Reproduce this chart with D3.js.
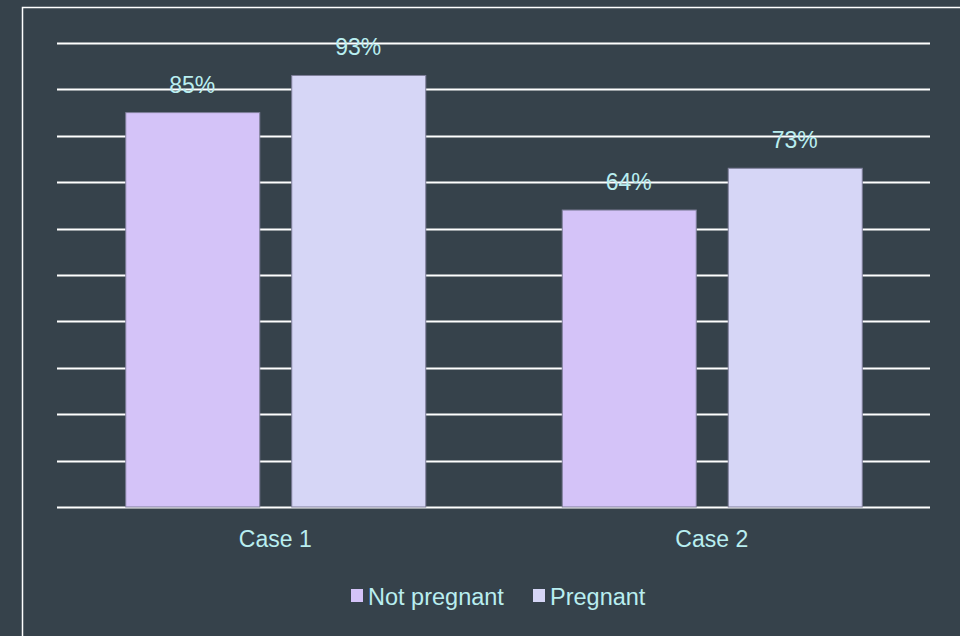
<!DOCTYPE html>
<html>
<head>
<meta charset="utf-8">
<script src="https://cdn.jsdelivr.net/npm/d3@7"></script>
<style>
  html, body { margin: 0; padding: 0; background: #36424b; }
  svg { display: block; }
  text { font-family: "Liberation Sans", Arial, sans-serif; fill: #b9eef0; }
</style>
</head>
<body>
<svg id="chart" width="960" height="636"></svg>
<script>
// Survey outcome by case, split by pregnancy status
const categories = ["Case 1", "Case 2"];
const seriesNames = ["Not pregnant", "Pregnant"];
const notPregnant = [85, 64];
const pregnant = [93, 73];
const yTicks = [0, 10, 20, 30, 40, 50, 60, 70, 80, 90, 100];

const seriesColors = ["#d4c3f8", "#d6d6f6"];
const seriesValues = [notPregnant, pregnant];

const W = 960, H = 636;
const margin = { left: 57, right: 30, top: 43, bottom: 129 };
const svg = d3.select("#chart");

svg.append("rect").attr("width", W).attr("height", H).attr("fill", "#36424b");

// outer frame (runs off the right and bottom edges)
svg.append("rect")
  .attr("x", 22.5).attr("y", 7.5)
  .attr("width", 960).attr("height", 660)
  .attr("fill", "none").attr("stroke", "#ffffff").attr("stroke-width", 1.5);

const x0 = d3.scaleBand().domain(categories)
  .range([margin.left, W - margin.right]).paddingInner(0).paddingOuter(0);
const y = d3.scaleLinear().domain([0, 100]).range([H - margin.bottom, margin.top]);

// horizontal gridlines
svg.append("g").selectAll("line").data(yTicks).join("line")
  .attr("x1", margin.left).attr("x2", W - margin.right)
  .attr("y1", d => Math.round(y(d)) + 0.5).attr("y2", d => Math.round(y(d)) + 0.5)
  .attr("stroke", "#ffffff").attr("stroke-width", 2);

const barW = 134, gap = 32;
const groupW = barW * 2 + gap;

const rows = [];
categories.forEach((c, i) => {
  seriesNames.forEach((s, j) => {
    rows.push({ cat: c, series: j, value: seriesValues[j][i] });
  });
});

const bx = d => x0(d.cat) + (x0.bandwidth() - groupW) / 2 + d.series * (barW + gap);

svg.append("g").selectAll("rect").data(rows).join("rect")
  .attr("x", d => bx(d) + 0.5)
  .attr("y", d => y(d.value))
  .attr("width", barW)
  .attr("height", d => y(0) - y(d.value))
  .attr("fill", d => seriesColors[d.series])
  .attr("stroke", "#7f7f9a").attr("stroke-width", 1);

// value labels
svg.append("g").selectAll("text").data(rows).join("text")
  .attr("x", d => bx(d) + barW / 2)
  .attr("y", d => y(d.value) - 20)
  .attr("text-anchor", "middle")
  .attr("font-size", 23)
  .text(d => d.value + "%");

// category axis labels
svg.append("g").selectAll("text").data(categories).join("text")
  .attr("x", d => x0(d) + x0.bandwidth() / 2)
  .attr("y", 547)
  .attr("text-anchor", "middle")
  .attr("font-size", 23)
  .text(d => d);

// legend
const legend = svg.append("g");
const legendItems = [{ x: 351 }, { x: 533 }];
seriesNames.forEach((name, j) => {
  const g = legend.append("g").attr("transform", `translate(${legendItems[j].x},0)`);
  g.append("rect").attr("x", 0).attr("y", 589).attr("width", 12).attr("height", 13)
    .attr("fill", seriesColors[j]);
  g.append("text").attr("x", 17).attr("y", 605).attr("font-size", 23.5).text(name);
});
</script>
</body>
</html>
